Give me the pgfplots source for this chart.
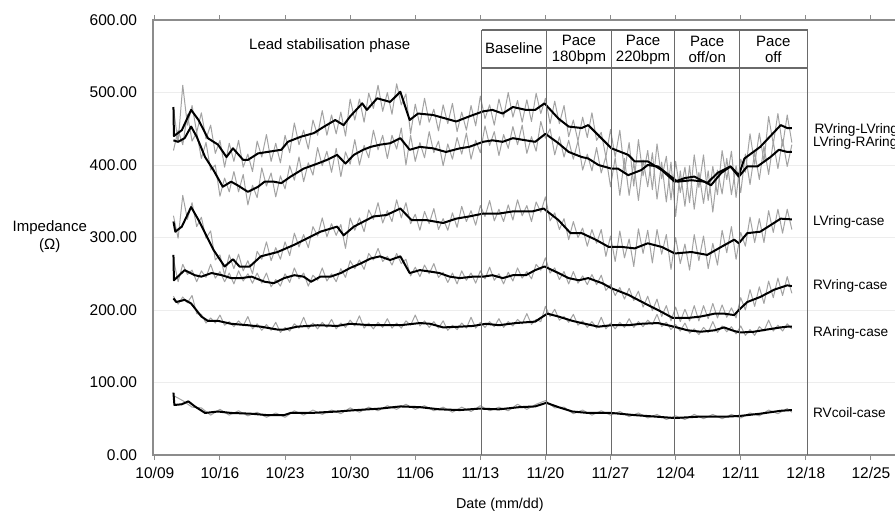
\documentclass[border=0pt]{standalone}
\usepackage{fontspec}
\setmainfont{Liberation Sans}
\usepackage{pgfplots}
\pgfplotsset{compat=1.18}

\definecolor{rawgrey}{HTML}{A3A3A3}
\definecolor{framegrey}{HTML}{8C8C8C}
\definecolor{gridgrey}{HTML}{EDEDED}
\definecolor{phasegrey}{HTML}{6A6A6A}

\begin{document}
\begin{tikzpicture}[x=1pt,y=1pt]
\begin{axis}[
    at={(0,0)}, anchor=south west,
    scale only axis,
    width=469.8pt, height=261pt,
    xmin=-0.2, xmax=84, ymin=0, ymax=600,
    clip=false,
    axis line style={draw=framegrey, line width=0.8pt},
    ymajorgrids=true,
    grid style={gridgrey, line width=0.5pt},
    xtick={0,7,14,21,28,35,42,49,56,63,70,77},
    xticklabels={10/09,10/16,10/23,10/30,11/06,11/13,11/20,11/27,12/04,12/11,12/18,12/25},
    ytick={0,100,200,300,400,500,600},
    tick align=outside,
    major tick length=3pt,
    xtick style={draw=framegrey, line width=0.6pt},
    ytick style={draw=none},
    tick label style={font=\fontsize{9.3}{11}\selectfont, text=black},
    yticklabel style={xshift=-3pt, /pgf/number format/.cd, fixed, fixed zerofill, precision=2},
    /pgf/number format/assume math mode=true,
    xticklabel style={yshift=-1pt},
    every axis plot/.append style={line join=round},
]

% raw measurements (grey)
\addplot[rawgrey, line width=0.6pt] coordinates {
(2,478)(2.5,431)(3,510)(3.5,455)(4,482)(4.5,445)(5,472)(5.5,436)(6,455)(6.5,416)(7,434)(7.5,397)(8,430)(8.5,405)(9,434)(9.5,397)(10,415)(10.5,391)(11,433)(11.5,411)(12,442)(12.5,405)(13,430)(13.5,403)(14,441)(14.5,417)(15,458)(15.5,428)(16,448)(16.5,422)(17,462)(17.5,441)(18,475)(18.5,441)(19,469)(19.5,443)(20,473)(20.5,440)(21,491)(21.5,462)(22,491)(22.5,459)(23,499)(23.5,478)(24,510)(24.5,474)(25,500)(25.5,470)(26,512)(26.5,483)(27,498)(27.5,443)(28,484)(28.5,455)(29,492)(29.5,459)(30,477)(30.5,447)(31,483)(31.5,457)(32,485)(32.5,446)(33,473)(33.5,448)(34,482)(34.5,454)(35,495)(35.5,464)(36,483)(36.5,455)(37,491)(37.5,466)(38,500)(38.5,466)(39,489)(39.5,459)(40,490)(40.5,460)(41,499)(41.5,471)(42,492)(42.5,457)(43,488)(43.5,457)(44,482)(44.5,439)(45,462)(45.5,433)(46,466)(46.5,438)(47,472)(47.5,434)(48,445)(48.5,411)(49,449)(49.5,411)(50,448)(50.5,391)(51,431)(51.5,371)(52,435)(52.5,385)(53,420)(53.5,366)(54,429)(54.5,381)(55,412)(55.5,352)(56,405)(56.5,362)(57,397)(57.5,348)(58,414)(58.5,369)(59,414)(59.5,351)(60,398)(60.5,359)(61,420)(61.5,380)(62,419)(62.5,355)(63,408)(63.5,390)(64,443)(64.5,401)(65,444)(65.5,405)(66,467)(66.5,429)(67,471)(67.5,426)(68,469)(68.5,431)
};
\addplot[rawgrey, line width=0.6pt] coordinates {
(2,420)(2.5,448)(3,428)(3.5,470)(4,433)(4.5,445)(5,409)(5.5,431)(6,393)(6.5,400)(7,357)(7.5,382)(8,363)(8.5,391)(9,363)(9.5,387)(10,345)(10.5,372)(11,355)(11.5,396)(12,371)(12.5,389)(13,356)(13.5,385)(14,367)(14.5,399)(15,379)(15.5,411)(16,377)(16.5,403)(17,386)(17.5,424)(18,399)(18.5,419)(19,390)(19.5,423)(20,384)(20.5,418)(21,401)(21.5,435)(22,400)(22.5,427)(23,410)(23.5,448)(24,421)(24.5,441)(25,409)(25.5,441)(26,422)(26.5,451)(27,400)(27.5,441)(28,405)(28.5,431)(29,410)(29.5,446)(30,417)(30.5,433)(31,399)(31.5,429)(32,408)(32.5,438)(33,415)(33.5,444)(34,408)(34.5,434)(35,417)(35.5,454)(36,427)(36.5,446)(37,413)(37.5,442)(38,423)(38.5,453)(39,428)(39.5,455)(40,416)(40.5,439)(41,419)(41.5,460)(42,437)(42.5,450)(43,414)(43.5,439)(44,411)(44.5,434)(45,408)(45.5,433)(46,393)(46.5,415)(47,392)(47.5,424)(48,389)(48.5,412)(49,370)(49.5,410)(50,358)(50.5,409)(51,358)(51.5,404)(52,351)(52.5,407)(53,370)(53.5,417)(54,353)(54.5,404)(55,349)(55.5,404)(56,329)(56.5,392)(57,343)(57.5,399)(58,339)(58.5,390)(59,347)(59.5,392)(60,335)(60.5,393)(61,360)(61.5,409)(62,359)(62.5,399)(63,362)(63.5,415)(64,373)(64.5,418)(65,380)(65.5,426)(66,387)(66.5,432)(67,395)(67.5,435)(68,398)(68.5,428)
};
\addplot[rawgrey, line width=0.6pt] coordinates {
(2,330)(2.5,299)(3,358)(3.5,325)(4,348)(4.5,315)(5,328)(5.5,299)(6,309)(6.5,269)(7,276)(7.5,248)(8,276)(8.5,257)(9,277)(9.5,254)(10,268)(10.5,250)(11,281)(11.5,270)(12,294)(12.5,268)(13,286)(13.5,270)(14,294)(14.5,275)(15,306)(15.5,287)(16,304)(16.5,286)(17,315)(17.5,302)(18,327)(18.5,301)(19,319)(19.5,303)(20,318)(20.5,285)(21,327)(21.5,310)(22,327)(22.5,308)(23,338)(23.5,325)(24,348)(24.5,320)(25,337)(25.5,322)(26,352)(26.5,327)(27,348)(27.5,319)(28,332)(28.5,310)(29,336)(29.5,319)(30,340)(30.5,311)(31,326)(31.5,310)(32,334)(32.5,314)(33,343)(33.5,322)(34,337)(34.5,317)(35,344)(35.5,329)(36,351)(36.5,323)(37,339)(37.5,322)(38,345)(38.5,324)(39,352)(39.5,330)(40,344)(40.5,322)(41,349)(41.5,335)(42,356)(42.5,323)(43,334)(43.5,311)(44,326)(44.5,297)(45,322)(45.5,300)(46,313)(46.5,288)(47,311)(47.5,292)(48,311)(48.5,274)(49,302)(49.5,267)(50,309)(50.5,272)(51,298)(51.5,260)(52,312)(52.5,278)(53,310)(53.5,265)(54,311)(54.5,277)(55,304)(55.5,256)(56,300)(56.5,264)(57,291)(57.5,255)(58,304)(58.5,268)(59,302)(59.5,257)(60,292)(60.5,262)(61,310)(61.5,279)(62,315)(62.5,270)(63,307)(63.5,288)(64,328)(64.5,293)(65,326)(65.5,293)(66,337)(66.5,307)(67,339)(67.5,306)(68,339)(68.5,311)
};
\addplot[rawgrey, line width=0.6pt] coordinates {
(2,270)(2.5,239)(3,263)(3.5,249)(4,255)(4.5,239)(5,254)(5.5,245)(6,263)(6.5,244)(7,253)(7.5,239)(8,251)(8.5,236)(9,254)(9.5,240)(10,250)(10.5,237)(11,251)(11.5,237)(12,251)(12.5,232)(13,242)(13.5,233)(14,250)(14.5,238)(15,258)(15.5,243)(16,251)(16.5,233)(17,248)(17.5,241)(18,258)(18.5,240)(19,250)(19.5,239)(20,257)(20.5,245)(21,268)(21.5,257)(22,269)(22.5,256)(23,278)(23.5,269)(24,285)(24.5,267)(25,274)(25.5,262)(26,278)(26.5,264)(27,270)(27.5,247)(28,259)(28.5,246)(29,262)(29.5,250)(30,264)(30.5,245)(31,252)(31.5,238)(32,251)(32.5,236)(33,254)(33.5,241)(34,251)(34.5,237)(35,254)(35.5,243)(36,259)(36.5,241)(37,250)(37.5,236)(38,252)(38.5,240)(39,258)(39.5,244)(40,253)(40.5,243)(41,263)(41.5,255)(42,272)(42.5,251)(43,258)(43.5,242)(44,253)(44.5,236)(45,253)(45.5,237)(46,247)(46.5,235)(47,249)(47.5,235)(48,248)(48.5,227)(49,235)(49.5,220)(50,231)(50.5,215)(51,230)(51.5,213)(52,226)(52.5,204)(53,219)(53.5,199)(54,215)(54.5,191)(55,206)(55.5,185)(56,204)(56.5,184)(57,201)(57.5,185)(58,206)(58.5,185)(59,206)(59.5,188)(60,209)(60.5,189)(61,207)(61.5,190)(62,203)(62.5,189)(63,217)(63.5,200)(64,228)(64.5,205)(65,232)(65.5,209)(66,240)(66.5,217)(67,244)(67.5,220)(68,246)(68.5,223)
};
\addplot[rawgrey, line width=0.6pt] coordinates {
(2,219)(2.5,208)(3,218)(3.5,210)(4,220)(4.5,195)(5,194)(5.5,182)(6,189)(6.5,182)(7,193)(7.5,179)(8,184)(8.5,177)(9,185)(9.5,178)(10,191)(10.5,174)(11,181)(11.5,172)(12,180)(12.5,172)(13,183)(13.5,169)(14,176)(14.5,171)(15,181)(15.5,175)(16,190)(16.5,174)(17,182)(17.5,174)(18,183)(18.5,176)(19,187)(19.5,174)(20,182)(20.5,176)(21,186)(21.5,178)(22,192)(22.5,175)(23,182)(23.5,174)(24,183)(24.5,176)(25,188)(25.5,175)(26,182)(26.5,175)(27,185)(27.5,179)(28,193)(28.5,178)(29,185)(29.5,176)(30,184)(30.5,175)(31,185)(31.5,172)(32,179)(32.5,173)(33,182)(33.5,175)(34,190)(34.5,175)(35,183)(35.5,176)(36,184)(36.5,177)(37,188)(37.5,176)(38,184)(38.5,178)(39,187)(39.5,181)(40,195)(40.5,180)(41,187)(41.5,184)(42,205)(42.5,191)(43,201)(43.5,186)(44,191)(44.5,183)(45,194)(45.5,179)(46,185)(46.5,176)(47,184)(47.5,175)(48,190)(48.5,174)(49,182)(49.5,174)(50,183)(50.5,176)(51,188)(51.5,176)(52,184)(52.5,177)(53,186)(53.5,180)(54,194)(54.5,177)(55,183)(55.5,173)(56,180)(56.5,171)(57,182)(57.5,168)(58,174)(58.5,166)(59,176)(59.5,169)(60,184)(60.5,169)(61,178)(61.5,170)(62,177)(62.5,167)(63,178)(63.5,165)(64,173)(64.5,165)(65,177)(65.5,171)(66,186)(66.5,171)(67,179)(67.5,171)(68,181)(68.5,174)
};
\addplot[rawgrey, line width=0.6pt] coordinates {
(2,82)(3,75)(4,66)(5,65)(6,55)(7,63)(8,55)(9,61)(10,54)(11,59)(12,52)(13,58)(14,52)(15,61)(16,55)(17,62)(18,56)(19,62)(20,57)(21,65)(22,59)(23,66)(24,61)(25,68)(26,63)(27,70)(28,63)(29,68)(30,61)(31,66)(32,59)(33,66)(34,60)(35,68)(36,61)(37,66)(38,61)(39,70)(40,63)(41,70)(42,75)(43,65)(44,66)(45,57)(46,62)(47,55)(48,61)(49,55)(50,60)(51,53)(52,58)(53,51)(54,56)(55,49)(56,54)(57,49)(58,56)(59,50)(60,56)(61,50)(62,56)(63,51)(64,58)(65,54)(66,62)(67,57)(68,64)(68.5,59)
};

% smoothed traces (black)
\addplot[black, line width=1.2pt] coordinates {
(2.0,480)(2.05,440)(2.9,448)(3.9,476)(4.7,462)(5.7,437)(6.8,428)(7.7,411)(8.4,423)(9.5,407)(10.0,407)(11.1,416)(13.6,421)(14.3,432)(15.7,439)(17.1,444)(18.2,453)(19.4,462)(20.3,455)(21.0,467)(22.3,485)(22.8,476)(23.9,492)(25.3,487)(26.4,501)(27.4,462)(28.3,471)(29.9,469)(31.3,464)(32.4,460)(33.8,467)(35.3,474)(36.3,476)(37.4,471)(38.5,480)(39.9,476)(40.9,476)(41.9,485)(43.4,464)(44.5,453)(45.9,451)(46.6,455)(47.7,441)(49.1,423)(50.9,414)(51.6,405)(53.0,405)(54.5,393)(55.9,377)(57.0,382)(58.0,384)(59.4,375)(60.5,389)(61.9,398)(62.8,386)(63.4,409)(65.1,425)(67.3,455)(68.0,451)(68.5,451)
};
\addplot[black, line width=1.2pt] coordinates {
(2.0,434)(2.5,432)(3.2,437)(3.9,453)(4.5,439)(5.4,411)(6.3,393)(7.3,370)(8.2,377)(8.9,372)(10.0,363)(11.1,370)(11.8,377)(12.8,377)(13.6,375)(14.6,384)(16.0,395)(17.5,402)(18.5,407)(19.6,414)(20.5,402)(21.4,414)(22.4,421)(23.2,425)(24.2,428)(25.3,430)(26.4,437)(27.4,421)(28.5,425)(29.9,423)(31.3,418)(32.8,423)(33.8,425)(35.3,432)(36.3,434)(37.4,432)(38.5,437)(39.9,434)(40.9,432)(42.0,443)(43.4,430)(44.5,418)(45.9,411)(46.6,409)(47.7,400)(49.1,395)(49.8,395)(50.9,386)(52.3,393)(53.0,400)(54.1,398)(55.5,384)(56.2,377)(57.7,379)(59.1,377)(59.8,372)(60.9,389)(61.9,398)(62.8,384)(63.7,398)(64.8,398)(66.2,411)(67.1,421)(68.0,418)(68.5,418)
};
\addplot[black, line width=1.2pt] coordinates {
(2.0,322)(2.2,308)(2.9,315)(3.9,342)(4.7,324)(6.3,283)(7.5,260)(8.4,270)(9.1,260)(10.2,260)(11.4,274)(13.2,280)(15.0,290)(16.4,299)(17.8,308)(19.6,315)(20.3,303)(21.4,315)(23.5,329)(24.9,331)(26.4,340)(27.6,324)(29.2,324)(31.0,320)(32.4,326)(33.8,329)(35.3,333)(37.0,333)(38.5,336)(40.6,336)(41.8,340)(43.4,324)(44.7,306)(45.9,306)(47.4,297)(48.8,287)(50.2,287)(51.6,285)(53.0,292)(54.5,287)(55.9,278)(57.7,280)(59.4,276)(60.9,287)(62.3,297)(62.8,292)(63.7,306)(65.1,308)(67.3,326)(68.5,325)
};
\addplot[black, line width=1.2pt] coordinates {
(2.0,276)(2.05,241)(2.3,244)(3.2,255)(4.3,248)(5.0,246)(6.1,251)(7.2,248)(8.2,244)(9.3,244)(10.4,246)(11.8,239)(12.8,237)(13.9,244)(15.0,248)(16.0,246)(16.8,239)(17.8,246)(18.9,246)(20.0,251)(21.0,258)(22.1,264)(23.2,271)(24.2,274)(25.3,269)(26.4,274)(27.4,251)(28.5,255)(29.6,253)(30.6,251)(31.7,246)(32.8,244)(34.2,246)(35.3,246)(36.3,248)(37.4,244)(38.5,248)(39.9,248)(40.9,255)(41.9,260)(43.4,251)(44.5,244)(45.6,241)(46.6,244)(48.1,237)(49.1,230)(50.9,221)(52.7,209)(54.1,200)(55.7,189)(57.3,189)(58.7,191)(60.2,195)(61.2,195)(62.3,193)(62.8,200)(63.7,211)(65.1,218)(66.6,228)(68.0,234)(68.5,233)
};
\addplot[black, line width=1.2pt] coordinates {
(2.0,216)(2.3,211)(3.2,214)(3.9,209)(5.0,191)(5.7,185)(6.8,185)(8.2,181)(10.0,179)(11.4,177)(13.2,173)(13.9,173)(15.3,177)(17.5,179)(19.6,178)(21.0,181)(23.2,179)(26.4,179)(28.5,182)(29.6,181)(31.0,176)(32.8,177)(34.2,178)(35.6,181)(37.0,179)(38.8,182)(40.9,184)(42.2,195)(43.4,191)(44.9,185)(45.9,182)(47.7,177)(49.1,179)(50.9,179)(52.3,181)(54.1,182)(55.5,178)(57.3,172)(58.7,170)(60.2,172)(61.2,176)(62.3,171)(63.0,169)(64.4,170)(65.8,173)(67.3,176)(68.0,177)(68.5,177)
};
\addplot[black, line width=1.2pt] coordinates {
(2.0,86)(2.1,69)(2.9,70)(3.6,74)(4.3,67)(5.4,58)(6.8,60)(8.2,58)(10.3,57)(12.1,55)(13.9,55)(14.6,58)(16.8,58)(19.6,60)(21.7,62)(24.2,64)(26.4,67)(28.5,66)(30.6,63)(32.8,62)(34.9,64)(37.0,63)(39.2,66)(40.9,67)(42.1,72)(43.4,66)(44.9,60)(46.6,58)(49.1,58)(51.6,55)(53.8,53)(55.9,51)(58.7,53)(61.6,53)(63.0,54)(65.1,57)(67.3,61)(68.5,62)
};

% phase boxes
\draw[phasegrey, line width=0.8pt] (axis cs:35.15,586) -- (axis cs:70.2,586);
\draw[phasegrey, line width=0.8pt] (axis cs:35.15,534) -- (axis cs:70.2,534);
\foreach \d in {35.15,42.1,49.1,55.9,62.9,70.2} {
  \edef\tmp{\noexpand\draw[phasegrey, line width=0.8pt] (axis cs:\d,0) -- (axis cs:\d,586);}
  \tmp
}
\begin{scope}[every node/.style={font=\fontsize{9}{9.8}\selectfont, align=center, inner sep=0pt}]
\node at (axis cs:18.8,565) {Lead stabilisation phase};
\node at (axis cs:38.6,561) {Baseline};
\node at (axis cs:45.6,559) {Pace\\180bpm};
\node at (axis cs:52.5,559) {Pace\\220bpm};
\node at (axis cs:59.4,559) {Pace\\off/on};
\node at (axis cs:66.5,559) {Pace\\off};
\end{scope}

% series labels
\begin{scope}[every node/.style={font=\fontsize{8.2}{9}\selectfont, anchor=west, inner sep=0pt}]
\node at (axis cs:70.9,448) {RVring-LVring};
\node at (axis cs:70.75,430) {LVring-RAring};
\node at (axis cs:70.75,322) {LVring-case};
\node at (axis cs:70.75,233) {RVring-case};
\node at (axis cs:70.75,169) {RAring-case};
\node at (axis cs:70.75,59) {RVcoil-case};
\end{scope}

% axis titles
\node[font=\fontsize{9}{10.4}\selectfont, align=center, inner sep=0pt] at (axis cs:-11.3,301) {Impedance\\(Ω)};
\node[font=\fontsize{8.6}{10}\selectfont, inner sep=0pt] at (axis cs:37.1,-69) {Date (mm/dd)};
\end{axis}
\pgfresetboundingbox
\useasboundingbox (-91.8,-40.8) rectangle (445.2,273);
\end{tikzpicture}
\end{document}
